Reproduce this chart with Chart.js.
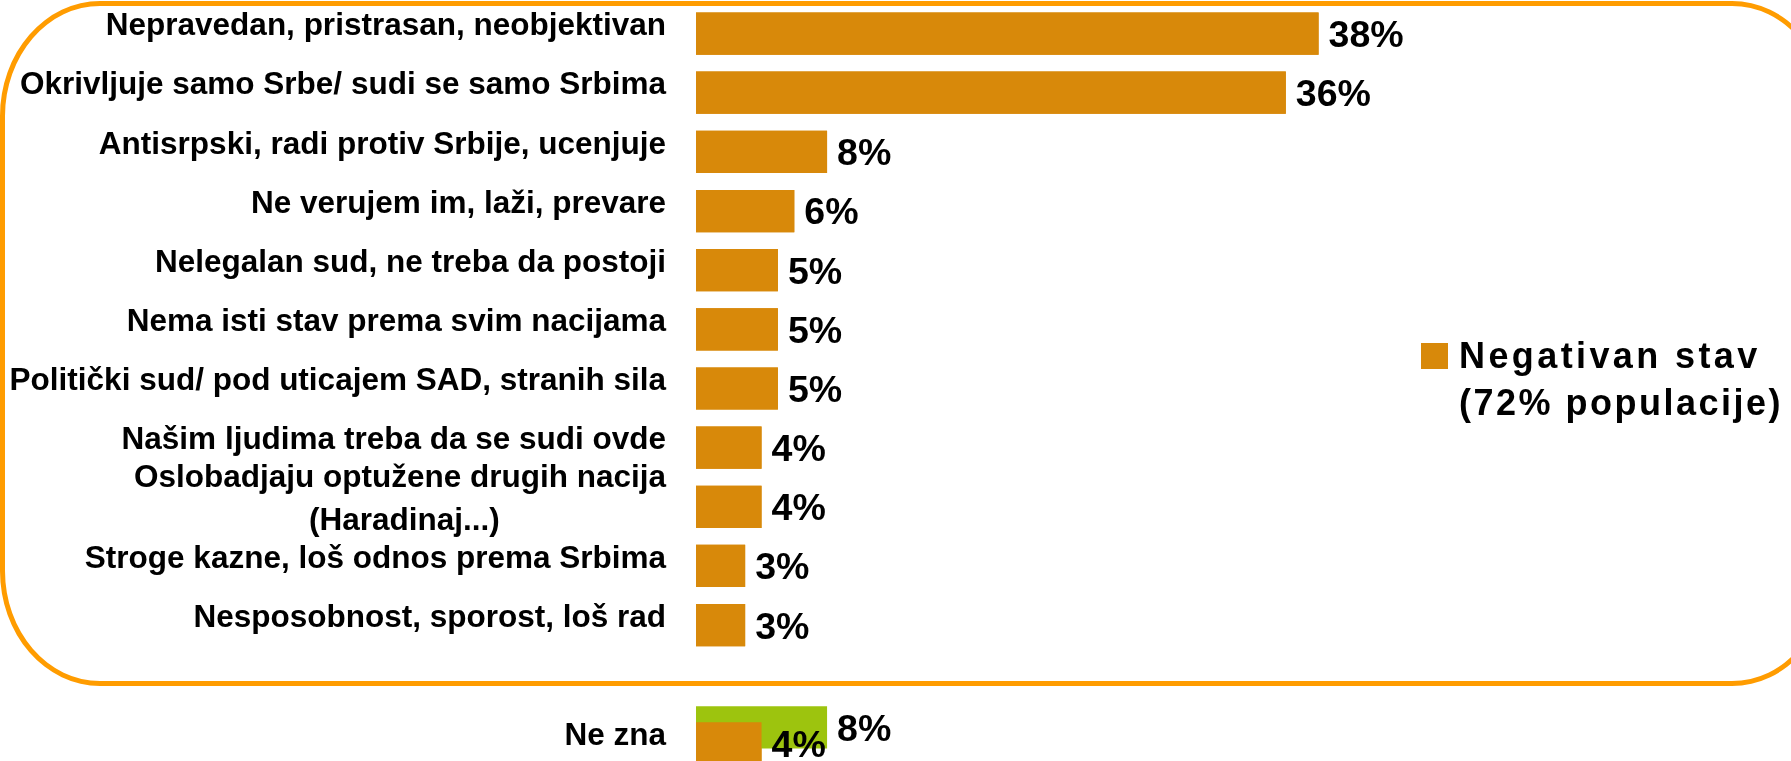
<!DOCTYPE html>
<html>
<head>
<meta charset="utf-8">
<script src="https://cdn.jsdelivr.net/npm/chart.js@4.4.0/dist/chart.umd.min.js"></script>
<style>
  html, body { margin: 0; padding: 0; width: 1791px; height: 761px; overflow: hidden; background: #ffffff; }
  #frame { position: absolute; left: 0; top: 1px; width: 1832px; height: 685px; box-sizing: border-box;
           border: 5px solid #FF9C00; border-radius: 100px / 115px; }
  #chart { position: absolute; left: 0; top: -4px; }
  #legendBox { position: absolute; left: 1421px; top: 343px; width: 27px; height: 26px; }
  #legendText { position: absolute; left: 1459px; top: 332px; font: bold 36px "Liberation Sans", Arial, sans-serif;
                line-height: 47px; color: #000; white-space: nowrap; }
  #legendText span { display: block; }
</style>
</head>
<body>
<div id="frame"></div>
<canvas id="chart" width="1791" height="769"></canvas>
<div id="legendBox"></div>
<div id="legendText"></div>
<script>
// ---- data ----
const categories = [
  'Nepravedan, pristrasan, neobjektivan',
  'Okrivljuje samo Srbe/ sudi se samo Srbima',
  'Antisrpski, radi protiv Srbije, ucenjuje',
  'Ne verujem im, laži, prevare',
  'Nelegalan sud, ne treba da postoji',
  'Nema isti stav prema svim nacijama',
  'Politički sud/ pod uticajem SAD, stranih sila',
  'Našim ljudima treba da se sudi ovde',
  ['Oslobadjaju optužene drugih nacija', '(Haradinaj...)'],
  'Stroge kazne, loš odnos prema Srbima',
  'Nesposobnost, sporost, loš rad',
  '',
  'Ne zna'
];
const negativanValues = [38, 36, 8, 6, 5, 5, 5, 4, 4, 3, 3, null, 4];
const neZnaValues = [null, null, null, null, null, null, null, null, null, null, null, null, 8];
const seriesNames = ['Ne zna', 'Negativan stav (72% populacije)'];
const legendLines = ['Negativan stav', '(72% populacije)'];

// ---- style ----
const ORANGE = '#D8890A';
const GREEN = '#9DC40E';
const FONT_FAMILY = '"Liberation Sans", Arial, sans-serif';
const TICK_SIZE = 31.5;
const VALUE_SIZE = 37.5;
const LEGEND_SPACING = ['3.4px', '2.5px'];

document.getElementById('legendBox').style.background = ORANGE;
const legendEl = document.getElementById('legendText');
legendLines.forEach((line, i) => {
  const s = document.createElement('span');
  s.textContent = line;
  s.style.letterSpacing = LEGEND_SPACING[i];
  legendEl.appendChild(s);
});

const measureCtx = document.createElement('canvas').getContext('2d');
function centerLines(lbl) {
  if (!Array.isArray(lbl)) return lbl;
  measureCtx.font = 'bold ' + TICK_SIZE + 'px ' + FONT_FAMILY;
  const widths = lbl.map(s => measureCtx.measureText(s).width);
  const maxW = Math.max.apply(null, widths);
  const sp = measureCtx.measureText(' ').width;
  return lbl.map((s, i) => s + ' '.repeat(Math.round((maxW - widths[i]) / 2 / sp)));
}

const overlayPlugin = {
  id: 'overlay',
  afterDatasetsDraw(chart) {
    // orange series drawn on top of the green one
    chart.getDatasetMeta(1).controller.draw();
    const ctx = chart.ctx;
    ctx.save();
    ctx.font = 'bold ' + VALUE_SIZE + 'px ' + FONT_FAMILY;
    ctx.fillStyle = '#000';
    ctx.textAlign = 'left';
    ctx.textBaseline = 'alphabetic';
    chart.data.datasets.forEach((ds, di) => {
      const meta = chart.getDatasetMeta(di);
      meta.data.forEach((el, i) => {
        const v = ds.data[i];
        if (v === null || v === undefined) return;
        ctx.fillText(v + '%', el.x + 10, el.y + VALUE_SIZE * 0.358);
      });
    });
    ctx.restore();
  }
};

const W = 769 / categories.length;

new Chart(document.getElementById('chart'), {
  type: 'bar',
  data: {
    labels: categories,
    datasets: [
      { label: seriesNames[0], data: neZnaValues, backgroundColor: GREEN,
        categoryPercentage: 32 / W, barPercentage: 2.64 },
      { label: seriesNames[1], data: negativanValues, backgroundColor: ORANGE,
        categoryPercentage: 32 / W, barPercentage: 2.64 }
    ]
  },
  options: {
    indexAxis: 'y',
    responsive: false,
    animation: false,
    layout: { padding: { left: 0, right: 112, top: 0, bottom: 0 } },
    plugins: { legend: { display: false }, tooltip: { enabled: false } },
    scales: {
      x: { display: false, min: 0, max: 60 },
      y: {
        grid: { display: false, drawTicks: false },
        border: { display: false },
        ticks: {
          color: '#000',
          padding: 30,
          autoSkip: false,
          labelOffset: 1,
          font: { family: FONT_FAMILY, size: TICK_SIZE, weight: 'bold', lineHeight: 1.365 },
          callback: function (value) { return centerLines(this.getLabelForValue(value)); }
        },
        afterFit(scale) { scale.width = 696; scale.paddingTop = 0; scale.paddingBottom = 0; }
      }
    }
  },
  plugins: [overlayPlugin]
});
</script>
</body>
</html>
